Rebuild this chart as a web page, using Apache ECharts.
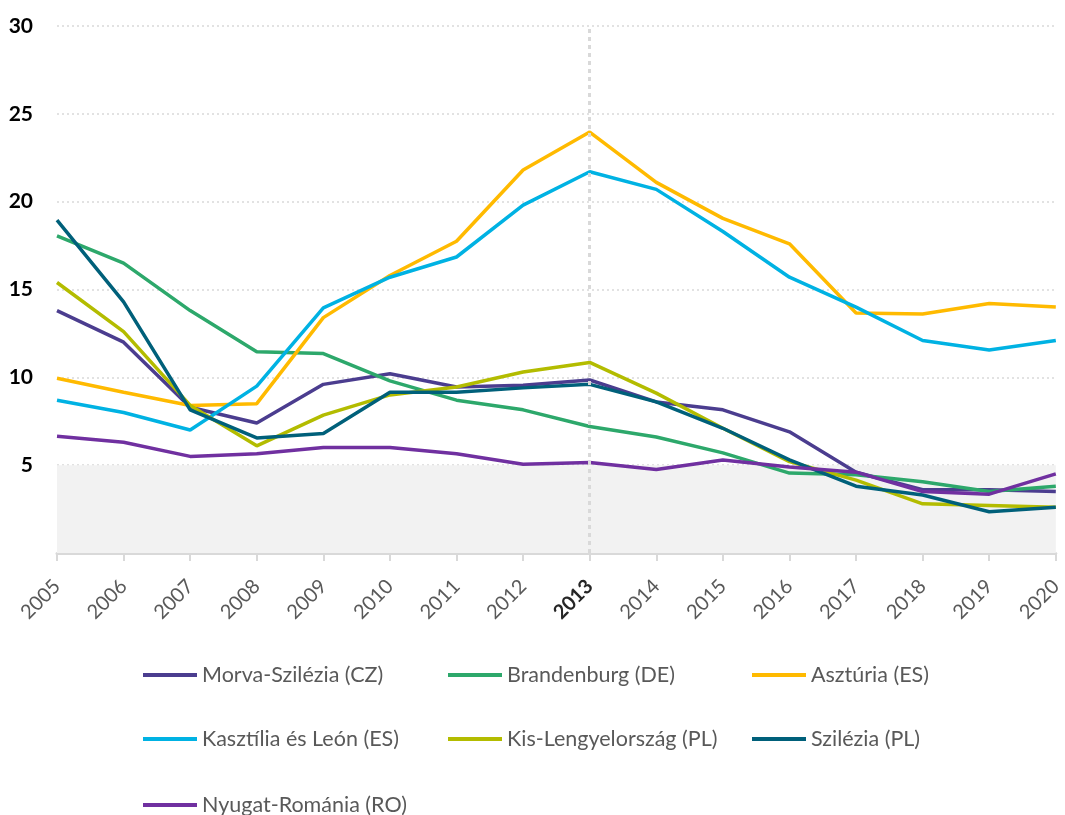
<!DOCTYPE html>
<html>
<head>
<meta charset="utf-8">
<script src="https://cdn.jsdelivr.net/npm/echarts@6/dist/echarts.min.js"></script>
<style>html,body{margin:0;padding:0;background:#fff}#c{width:1065px;height:815px}</style>
</head>
<body>
<div id="c"></div>
<script>
const years = ['2005','2006','2007','2008','2009','2010','2011','2012','2013','2014','2015','2016','2017','2018','2019','2020'];
const yTicks = [5, 10, 15, 20, 25, 30];
const highlightYear = '2013';
const shadedBand = [0, 5];

const morvaSzilezia = [13.8, 12.0, 8.3, 7.4, 9.6, 10.2, 9.45, 9.55, 9.85, 8.6, 8.15, 6.9, 4.6, 3.6, 3.6, 3.5];
const brandenburg = [18.05, 16.5, 13.8, 11.45, 11.35, 9.8, 8.7, 8.15, 7.2, 6.6, 5.7, 4.55, 4.45, 4.05, 3.5, 3.8];
const asturia = [9.95, 9.15, 8.4, 8.5, 13.4, 15.8, 17.75, 21.8, 23.96, 21.1, 19.05, 17.6, 13.66, 13.6, 14.2, 14.0];
const kasztilia = [8.7, 8.0, 7.0, 9.5, 13.95, 15.7, 16.85, 19.8, 21.7, 20.7, 18.3, 15.7, 14.0, 12.1, 11.55, 12.1];
const kisLengyel = [15.4, 12.6, 8.4, 6.1, 7.85, 9.0, 9.45, 10.3, 10.85, 9.1, 7.1, 5.2, 4.15, 2.8, 2.7, 2.6];
const szilezia = [18.95, 14.3, 8.15, 6.55, 6.8, 9.15, 9.15, 9.4, 9.6, 8.6, 7.1, 5.3, 3.8, 3.3, 2.35, 2.6];
const nyugatRomania = [6.65, 6.3, 5.5, 5.65, 6.0, 6.0, 5.65, 5.05, 5.15, 4.75, 5.3, 4.9, 4.6, 3.5, 3.35, 4.5];

const seriesDefs = [
  {name: 'Morva-Szilézia (CZ)', data: morvaSzilezia, color: '#4B3D8F'},
  {name: 'Brandenburg (DE)', data: brandenburg, color: '#2DA86B'},
  {name: 'Asztúria (ES)', data: asturia, color: '#FFBA00'},
  {name: 'Kasztília és León (ES)', data: kasztilia, color: '#00B2E3'},
  {name: 'Kis-Lengyelország (PL)', data: kisLengyel, color: '#B3BC00'},
  {name: 'Szilézia (PL)', data: szilezia, color: '#00607A'},
  {name: 'Nyugat-Románia (RO)', data: nyugatRomania, color: '#7030A0'}
];

const legendPos = [
  [143, 664], [448, 664], [752, 664],
  [143, 728], [448, 728], [752, 728],
  [143, 794]
];

const font = 'Lato, "Open Sans", "Liberation Sans", sans-serif';

const series = seriesDefs.map((s, i) => {
  const o = {
    name: s.name, type: 'line', data: s.data, symbol: 'none',
    lineStyle: {color: s.color, width: 3.5}, itemStyle: {color: s.color},
    z: 3
  };
  if (i === 0) {
    o.markArea = {
      silent: true,
      itemStyle: {color: '#F2F2F2'},
      data: [[{yAxis: shadedBand[0]}, {yAxis: shadedBand[1]}]]
    };
    o.markLine = {
      silent: true, symbol: 'none', label: {show: false},
      lineStyle: {color: '#D9D9D9', width: 3, type: [4, 4]},
      data: [{xAxis: highlightYear}]
    };
  }
  return o;
});

const legends = seriesDefs.map((s, i) => ({
  data: [s.name],
  left: legendPos[i][0], top: legendPos[i][1],
  padding: 0,
  itemWidth: 54, itemHeight: 4, itemGap: 4,
  icon: 'rect',
  textStyle: {fontFamily: font, fontSize: 21.5, color: '#595959', padding: [0, 0, 0, 0]},
  selectedMode: false
}));

const chart = echarts.init(document.getElementById('c'), null, {renderer: 'canvas'});
chart.setOption({
  animation: false,
  backgroundColor: '#fff',
  grid: {left: 57, right: 5, top: 26, bottom: 262, containLabel: false},
  legend: legends,
  xAxis: {
    type: 'category', data: years, boundaryGap: false,
    axisLine: {lineStyle: {color: '#D9D9D9', width: 3}},
    axisTick: {show: true, length: 8, lineStyle: {color: '#D9D9D9', width: 2}},
    axisLabel: {
      rotate: 45, margin: 30, fontFamily: font, fontSize: 20, color: '#595959',
      formatter: v => v === highlightYear ? '{b|' + v + '}' : v,
      rich: {b: {fontWeight: 'bold', color: '#262626', fontSize: 20, fontFamily: font}}
    },
    splitLine: {show: false}
  },
  yAxis: {
    type: 'value', min: 0, max: yTicks[yTicks.length - 1], interval: yTicks[0],
    axisLine: {show: false}, axisTick: {show: false},
    axisLabel: {
      fontFamily: font, fontSize: 21, fontWeight: 'bold', color: '#000', margin: 24,
      formatter: v => yTicks.includes(v) ? String(v) : ''
    },
    splitLine: {lineStyle: {color: '#D9D9D9', width: 1.5, type: [2, 3]}}
  },
  series: series
});
</script>
</body>
</html>
